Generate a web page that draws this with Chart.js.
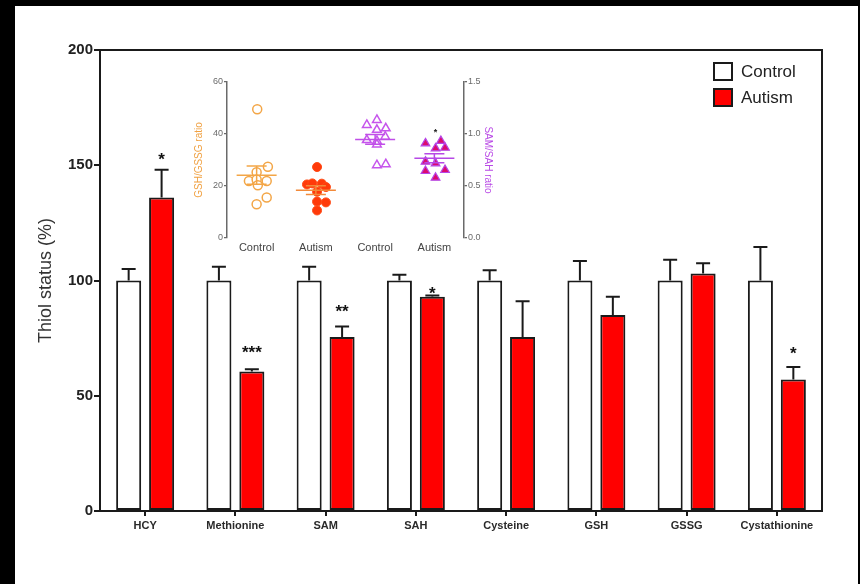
<!DOCTYPE html>
<html>
<head>
<meta charset="utf-8">
<script src="https://cdn.jsdelivr.net/npm/chart.js@4.4.1/dist/chart.umd.min.js"></script>
<style>
  html, body { margin: 0; padding: 0; background: #000; }
  #wrap { position: absolute; left: 15px; top: 6px; width: 843px; height: 578px; background: #fff; overflow: hidden; }
  #mainChart { position: absolute; left: 0; top: 0; }
  #insetChart { position: absolute; left: 175px; top: 64px; }
</style>
</head>
<body>
<div id="wrap">
  <canvas id="mainChart" width="843" height="578"></canvas>
  <canvas id="insetChart" width="310" height="190"></canvas>
</div>
<script>
// main bar chart data
const categories = ['HCY', 'Methionine', 'SAM', 'SAH', 'Cysteine', 'GSH', 'GSSG', 'Cystathionine'];
const controlValues = [100, 100, 100, 100, 100, 100, 100, 100];
const controlErrors = [5, 6, 6, 2.5, 4.5, 8.5, 9, 14.5];
const autismValues = [136, 60.5, 75.5, 93, 75.5, 85, 103, 57];
const autismErrors = [12, 1, 4.5, 0.5, 15.5, 8, 4.5, 5.5];
const sigLabels = ['*', '***', '**', '*', '', '', '', '*'];
const sigAt = [150, 66.5, 84, 92, null, null, null, 66];
const yTicks = [0, 50, 100, 150, 200];

// inset scatter data (x = group position with jitter)
const insetLabels = ['Control', 'Autism', 'Control', 'Autism'];
const gsgControlX = [1.01, 1.19, 1.00, 0.87, 1.00, 1.17, 1.02, 1.17, 1.00];
const gsgControlY = [49.5, 27.4, 25.3, 21.9, 22.5, 21.9, 20.3, 15.6, 13.0];
const gsgAutismX = [2.02, 1.85, 1.94, 2.10, 2.17, 2.02, 2.02, 2.17, 2.02];
const gsgAutismY = [27.3, 20.6, 21.0, 20.9, 19.6, 17.8, 14.0, 13.7, 10.6];
const samControlX = [2.86, 3.03, 3.03, 3.18, 3.17, 2.86, 3.03, 3.03, 3.03, 3.18];
const samControlY = [1.087, 1.135, 1.04, 1.055, 0.974, 0.942, 0.933, 0.90, 0.70, 0.71];
const samAutismX = [3.85, 4.11, 4.02, 4.18, 3.85, 4.02, 3.85, 4.18, 4.02];
const samAutismY = [0.91, 0.933, 0.862, 0.868, 0.734, 0.718, 0.644, 0.654, 0.58];

Chart.defaults.font.family = '"Liberation Sans", Arial, sans-serif';

const axisColor = '#1a1a1a';

// upper error bars with caps
const errorBars = {
    id: 'errorBars',
    afterDatasetsDraw(chart) {
        const ctx = chart.ctx;
        const y = chart.scales.y;
        chart.data.datasets.forEach((ds, i) => {
            chart.getDatasetMeta(i).data.forEach((bar, j) => {
                const top = y.getPixelForValue(ds.data[j] + ds.errors[j]);
                ctx.save();
                ctx.strokeStyle = axisColor;
                ctx.lineWidth = 2;
                ctx.beginPath();
                ctx.moveTo(bar.x, bar.y);
                ctx.lineTo(bar.x, top);
                ctx.moveTo(bar.x - 7, top);
                ctx.lineTo(bar.x + 7, top);
                ctx.stroke();
                ctx.restore();
            });
        });
    }
};

// significance stars above the autism bars
const sigStars = {
    id: 'sigStars',
    afterDatasetsDraw(chart) {
        const ctx = chart.ctx;
        const bars = chart.getDatasetMeta(1).data;
        ctx.save();
        ctx.fillStyle = '#111';
        ctx.font = 'bold 17px "Liberation Sans", Arial, sans-serif';
        ctx.textAlign = 'center';
        ctx.textBaseline = 'alphabetic';
        sigLabels.forEach((s, j) => {
            if (!s) return;
            ctx.fillText(s, bars[j].x, chart.scales.y.getPixelForValue(sigAt[j]));
        });
        ctx.restore();
    }
};

// top and right sides of the box
const frame = {
    id: 'frame',
    afterDraw(chart) {
        const a = chart.chartArea;
        const ctx = chart.ctx;
        ctx.save();
        ctx.strokeStyle = axisColor;
        ctx.lineWidth = 2;
        ctx.beginPath();
        ctx.moveTo(a.left, a.top);
        ctx.lineTo(a.right, a.top);
        ctx.lineTo(a.right, a.bottom);
        ctx.stroke();
        ctx.restore();
    }
};

// legend in the top right corner of the plot
const boxLegend = {
    id: 'boxLegend',
    afterDraw(chart) {
        const a = chart.chartArea;
        const ctx = chart.ctx;
        ctx.save();
        ctx.font = '17px "Liberation Sans", Arial, sans-serif';
        ctx.textBaseline = 'middle';
        chart.data.datasets.forEach((ds, i) => {
            const x = a.right - 108;
            const y = a.top + 13 + i * 26;
            ctx.fillStyle = ds.backgroundColor;
            ctx.fillRect(x, y, 18, 17);
            ctx.strokeStyle = axisColor;
            ctx.lineWidth = 2;
            ctx.strokeRect(x, y, 18, 17);
            ctx.fillStyle = '#222';
            ctx.fillText(ds.label, x + 27, y + 9);
        });
        ctx.restore();
    }
};

new Chart(document.getElementById('mainChart'), {
    type: 'bar',
    data: {
        labels: categories,
        datasets: [{
            label: 'Control',
            data: controlValues,
            errors: controlErrors,
            backgroundColor: '#ffffff',
            borderColor: axisColor,
            borderWidth: 2,
            borderSkipped: false
        }, {
            label: 'Autism',
            data: autismValues,
            errors: autismErrors,
            backgroundColor: '#ff0000',
            borderColor: axisColor,
            borderWidth: 2,
            borderSkipped: false
        }]
    },
    options: {
        responsive: false,
        animation: false,
        devicePixelRatio: 1,
        categoryPercentage: 0.73,
        barPercentage: 0.76,
        layout: { padding: { top: 44, right: 36, left: 0, bottom: 0 } },
        plugins: {
            legend: { display: false },
            tooltip: { enabled: false }
        },
        scales: {
            x: {
                offset: true,
                grid: { drawOnChartArea: false, offset: false, tickLength: 5, color: axisColor, lineWidth: 2 },
                border: { color: axisColor, width: 2 },
                ticks: { color: '#2a2a2a', font: { size: 11, weight: 'bold' }, padding: 3, maxRotation: 0, autoSkip: false },
                afterFit(s) { s.height = 73; }
            },
            y: {
                min: 0,
                max: 200,
                afterBuildTicks(s) { s.ticks = yTicks.map(v => ({ value: v })); },
                grid: { drawOnChartArea: false, tickLength: 6, color: axisColor, lineWidth: 2 },
                border: { color: axisColor, width: 2 },
                ticks: { color: '#222', font: { size: 15, weight: 'bold' }, padding: 1 },
                title: {
                    display: true,
                    text: 'Thiol status (%)',
                    color: '#333',
                    font: { size: 18 },
                    padding: { top: 20, bottom: 0 }
                },
                afterFit(s) { s.width = 85; }
            }
        }
    },
    plugins: [errorBars, sigStars, frame, boxLegend]
});

// inset: mean and SEM lines for each scatter group
function pts(xs, ys) {
    return xs.map((x, i) => ({ x: x, y: ys[i] }));
}

const meanSem = {
    id: 'meanSem',
    afterDatasetsDraw(chart) {
        const ctx = chart.ctx;
        const xs = chart.scales.x;
        chart.data.datasets.forEach((ds, i) => {
            const ys = chart.scales[ds.yAxisID];
            const vals = ds.data.map(p => p.y);
            const n = vals.length;
            const mean = vals.reduce((a, b) => a + b, 0) / n;
            const sd = Math.sqrt(vals.reduce((a, b) => a + (b - mean) * (b - mean), 0) / (n - 1));
            const sem = sd / Math.sqrt(n);
            const cx = xs.getPixelForValue(ds.center);
            const ym = ys.getPixelForValue(mean);
            const yt = ys.getPixelForValue(mean + sem);
            const yb = ys.getPixelForValue(mean - sem);
            ctx.save();
            ctx.strokeStyle = ds.lineColor;
            ctx.lineWidth = 1.5;
            ctx.beginPath();
            ctx.moveTo(cx - 20, ym);
            ctx.lineTo(cx + 20, ym);
            ctx.moveTo(cx, yt);
            ctx.lineTo(cx, yb);
            ctx.moveTo(cx - 10, yt);
            ctx.lineTo(cx + 10, yt);
            ctx.moveTo(cx - 10, yb);
            ctx.lineTo(cx + 10, yb);
            ctx.stroke();
            ctx.restore();
        });
        // star above the autism SAM/SAH group
        ctx.save();
        ctx.fillStyle = '#222';
        ctx.font = 'bold 9px "Liberation Sans", Arial, sans-serif';
        ctx.textAlign = 'center';
        ctx.fillText('*', xs.getPixelForValue(4.02), chart.scales.yR.getPixelForValue(0.99));
        ctx.restore();
    }
};

const insetGrey = '#6a6a6a';

new Chart(document.getElementById('insetChart'), {
    type: 'scatter',
    data: {
        datasets: [{
            data: pts(gsgControlX, gsgControlY),
            yAxisID: 'yL',
            center: 1,
            lineColor: '#f3a647',
            pointStyle: 'circle',
            radius: 4.5,
            backgroundColor: '#ffffff',
            borderColor: '#f3a647',
            borderWidth: 1.5
        }, {
            data: pts(gsgAutismX, gsgAutismY),
            yAxisID: 'yL',
            center: 2,
            lineColor: '#f28a3a',
            pointStyle: 'circle',
            radius: 4.5,
            backgroundColor: '#ff3a0a',
            borderColor: '#ff4a14',
            borderWidth: 1
        }, {
            data: pts(samControlX, samControlY),
            yAxisID: 'yR',
            center: 3,
            lineColor: '#c04ee8',
            pointStyle: 'triangle',
            radius: 5,
            backgroundColor: '#ffffff',
            borderColor: '#c655ec',
            borderWidth: 1.5
        }, {
            data: pts(samAutismX, samAutismY),
            yAxisID: 'yR',
            center: 4,
            lineColor: '#b648e6',
            pointStyle: 'triangle',
            radius: 5,
            backgroundColor: '#dc0a6e',
            borderColor: '#b545e8',
            borderWidth: 1.2
        }]
    },
    options: {
        responsive: false,
        animation: false,
        devicePixelRatio: 1,
        layout: { padding: { top: 12, right: 0, left: 0, bottom: 0 } },
        plugins: {
            legend: { display: false },
            tooltip: { enabled: false }
        },
        scales: {
            x: {
                type: 'linear',
                min: 0.5,
                max: 4.5,
                afterBuildTicks(s) { s.ticks = [1, 2, 3, 4].map(v => ({ value: v })); },
                grid: { display: false, drawTicks: false },
                border: { display: false },
                ticks: {
                    color: '#444',
                    font: { size: 11 },
                    padding: 3,
                    callback: (v) => insetLabels[v - 1]
                },
                afterFit(s) { s.height = 22; }
            },
            yL: {
                position: 'left',
                min: 0,
                max: 60,
                afterBuildTicks(s) { s.ticks = [0, 20, 40, 60].map(v => ({ value: v })); },
                grid: { drawOnChartArea: false, tickLength: 3, color: insetGrey, lineWidth: 1.3 },
                border: { color: insetGrey, width: 1.5 },
                ticks: { color: '#6a6a6a', font: { size: 9 }, padding: 1 },
                title: {
                    display: true,
                    text: 'GSH/GSSG ratio',
                    color: '#f0a040',
                    font: { size: 10 },
                    padding: { top: 3, bottom: 0 }
                },
                afterFit(s) { s.width = 37; }
            },
            yR: {
                position: 'right',
                min: 0,
                max: 1.5,
                afterBuildTicks(s) { s.ticks = [0, 0.5, 1, 1.5].map(v => ({ value: v })); },
                grid: { drawOnChartArea: false, tickLength: 3, color: insetGrey, lineWidth: 1.3 },
                border: { color: insetGrey, width: 1.5 },
                ticks: { color: '#6a6a6a', font: { size: 9 }, padding: 1, callback: (v) => Number(v).toFixed(1) },
                title: {
                    display: true,
                    text: 'SAM/SAH ratio',
                    color: '#b94ae6',
                    font: { size: 10 },
                    padding: { top: 6, bottom: 0 }
                },
                afterFit(s) { s.width = 36; }
            }
        }
    },
    plugins: [meanSem]
});
</script>
</body>
</html>
